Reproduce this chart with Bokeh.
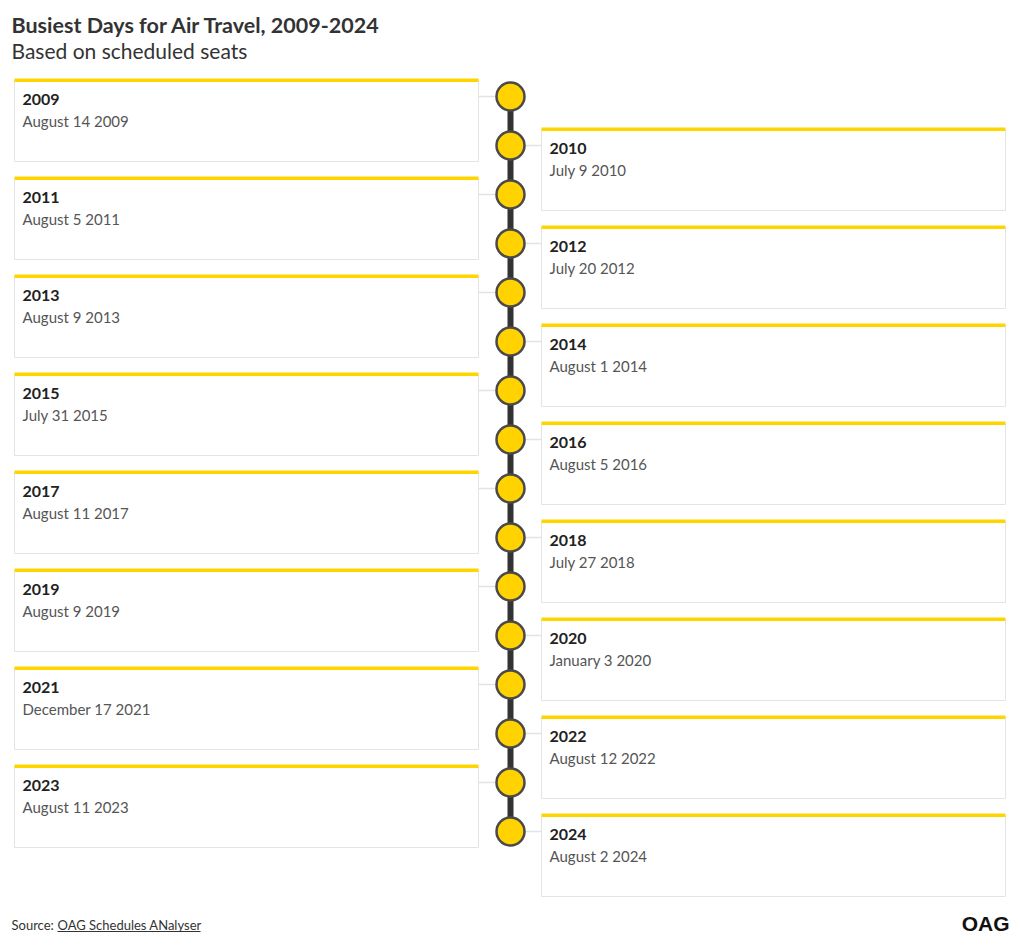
from bokeh.plotting import figure
from bokeh.models import Range1d, ColumnDataSource
from bokeh.core.properties import value
from bokeh.embed import file_html
from bokeh.resources import INLINE

# ---- data ----
years = [2009, 2010, 2011, 2012, 2013, 2014, 2015, 2016,
         2017, 2018, 2019, 2020, 2021, 2022, 2023, 2024]
busiest_days = ["August 14 2009", "July 9 2010", "August 5 2011", "July 20 2012",
                "August 9 2013", "August 1 2014", "July 31 2015", "August 5 2016",
                "August 11 2017", "July 27 2018", "August 9 2019", "January 3 2020",
                "December 17 2021", "August 12 2022", "August 11 2023", "August 2 2024"]
title = "Busiest Days for Air Travel, 2009-2024"
subtitle = "Based on scheduled seats"
source_label = "Source: "
source_link = "OAG Schedules ANalyser"

FONT = "Lato"
W, H = 1015, 940
p = figure(width=W, height=H, output_backend="svg", toolbar_location=None,
           x_range=Range1d(0, W), y_range=Range1d(H, 0),
           min_border=0, outline_line_color=None)
p.axis.visible = False
p.grid.visible = False
p.background_fill_color = "white"
p.border_fill_color = "white"

# layout
cx = 510
y0 = 96
step = 49.0
cy = [y0 + i * step for i in range(len(years))]
left_side = [i % 2 == 0 for i in range(len(years))]
lefts = [14 if l else 541 for l in left_side]
rights = [478 if l else 1005 for l in left_side]
tops = [c - 16 for c in cy]
bottoms = [c + 65 for c in cy]

src = ColumnDataSource(dict(
    year=[str(y) for y in years], day=busiest_days, cy=cy,
    left=lefts, right=rights, top=tops, bottom=bottoms,
    bar_top=[c - 18 for c in cy], bar_bottom=[c - 14.5 for c in cy],
    tx=[l + 8 for l in lefts], ty1=[c + 3 for c in cy], ty2=[c + 24 for c in cy],
    cx0=[478 if l else 524 for l in left_side], cx1=[496 if l else 541 for l in left_side],
))

# connector lines
p.segment(x0="cx0", y0="cy", x1="cx1", y1="cy", source=src, line_color="#e3e3e3", line_width=1.5)
# spine
p.segment(x0=[cx], y0=[cy[0]], x1=[cx], y1=[cy[-1]], line_color="#333333", line_width=6)
# cards
p.quad(left="left", right="right", top="top", bottom="bottom", source=src,
       fill_color="white", line_color="#e4e4e4", line_width=1)
p.quad(left="left", right="right", top="bar_top", bottom="bar_bottom", source=src,
       fill_color="#FFD500", line_color=None)
# circles
p.scatter(x=cx, y="cy", source=src, size=28, fill_color="#FFD200",
          line_color="#4a4a4a", line_width=2.5)
# texts
p.text(x="tx", y="ty1", text="year", source=src, text_font=value(FONT),
       text_font_style="bold", text_font_size="16px", text_color="#222222",
       text_baseline="middle")
p.text(x="tx", y="ty2", text="day", source=src, text_font=value(FONT),
       text_font_size="15px", text_color="#555555", text_baseline="middle")

# title
p.text(x=[11], y=[24], text=[title], text_font=value(FONT), text_font_style="bold",
       text_font_size="21.5px", text_color="#333333", text_baseline="middle")
p.text(x=[11], y=[50], text=[subtitle], text_font=value(FONT),
       text_font_size="21px", text_color="#333333", text_baseline="middle")

# footer
p.text(x=[11], y=[924], text=[source_label], text_font=value(FONT),
       text_font_size="13px", text_color="#333333", text_baseline="middle")
p.text(x=[57], y=[924], text=[source_link], text_font=value(FONT),
       text_font_size="13px", text_color="#333333", text_baseline="middle")
p.segment(x0=[57], y0=[931], x1=[200], y1=[931], line_color="#333333", line_width=1)
p.text(x=[1009], y=[923], text=["OAG"], text_font=value("Liberation Sans"),
       text_font_style="bold", text_font_size="21px", text_color="#111111",
       text_baseline="middle", text_align="right")

open("out.html", "w").write(file_html(p, INLINE))
